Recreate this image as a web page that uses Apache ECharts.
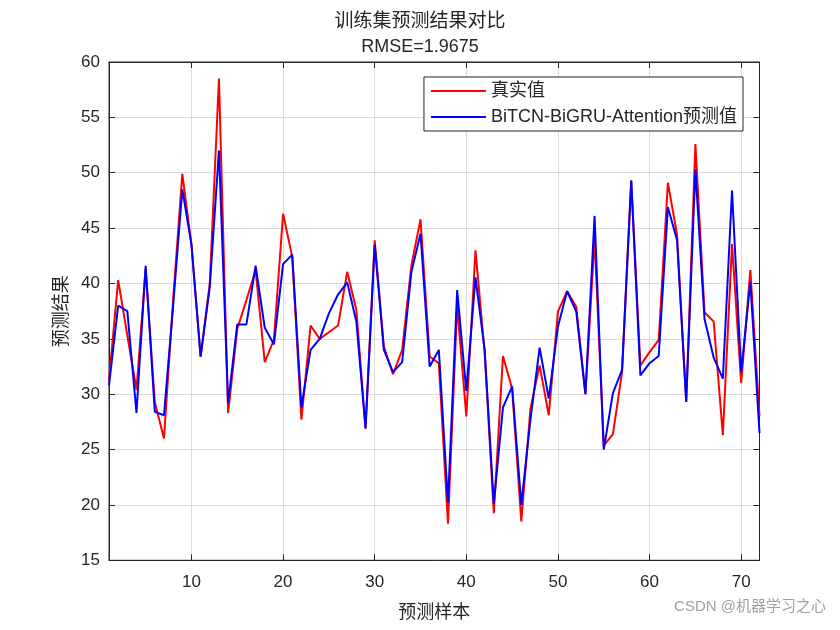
<!DOCTYPE html>
<html><head><meta charset="utf-8">
<script src="https://cdn.jsdelivr.net/npm/echarts@6/dist/echarts.min.js"></script>
<style>html,body{margin:0;padding:0;background:#fff}#c{width:840px;height:630px}</style>
</head><body><div id="c"></div>
<script>
const titleText = "训练集预测结果对比";
const subTitle = "RMSE=1.9675";
const xTicks = [10,20,30,40,50,60,70];
const seriesNames = ["真实值", "BiTCN-BiGRU-Attention预测值"];
const actual = [31.3,40.3,35.3,30.4,41.3,29.3,26.0,38.5,49.9,43.5,33.4,40.0,58.5,28.3,35.9,38.5,41.2,32.9,34.9,46.3,
42.4,27.7,36.2,35.0,35.6,36.2,41.05,37.6,26.9,43.9,34.3,31.8,34.0,41.6,45.8,33.4,32.8,18.3,38.0,28.0,
43.0,33.8,19.25,33.45,30.5,18.5,28.7,32.6,28.1,37.45,39.3,37.9,30.0,44.0,25.35,26.4,32.0,49.3,32.6,33.8,
34.9,49.1,44.4,29.3,52.6,37.4,36.55,26.3,43.55,31.0,41.2,28.0];
const predicted = [30.8,38.0,37.5,28.3,41.6,28.4,28.1,38.0,48.5,43.5,33.4,39.7,52.0,29.2,36.3,36.3,41.6,36.0,34.5,41.75,
42.6,28.8,34.0,35.0,37.3,39.0,40.1,36.55,26.9,43.5,34.0,32.0,32.9,41.0,44.5,32.5,34.0,20.2,39.4,30.3,
40.55,34.0,20.1,28.8,30.7,20.0,27.7,34.2,29.6,36.1,39.3,37.45,30.0,46.1,25.0,30.1,32.2,49.3,31.7,32.8,
33.45,46.9,43.9,29.3,50.3,36.8,33.3,31.4,48.4,32.0,40.15,26.5];

const toPairs = arr => arr.map((v,i)=>[i+1,v]);
const numFont = "Liberation Sans";
const cjk = "Noto Sans CJK SC";
const chart = echarts.init(document.getElementById('c'), null, {renderer:'canvas'});
const gl = {show:true, lineStyle:{color:'#dcdcdc', width:1}};
chart.setOption({
  backgroundColor:'#fff',
  animation:false,
  title:[
    {text:titleText, left:'center', top:5, textStyle:{fontFamily:cjk, fontSize:19, fontWeight:'normal', color:'#262626'}},
    {text:subTitle, left:'center', top:33, textStyle:{fontFamily:numFont, fontSize:18, fontWeight:'normal', color:'#262626'}}
  ],
  grid:{left:109, right:80.5, top:62, bottom:69.7, show:true, borderColor:'#262626', borderWidth:1, backgroundColor:'#fff'},
  legend:{
    orient:'vertical', right:97, top:77, itemWidth:55, itemHeight:2, itemGap:8,
    backgroundColor:'#fff', borderColor:'#262626', borderWidth:1, padding:[5,6,5,7],
    textStyle:{fontFamily:[numFont, cjk].join(','), fontSize:18, color:'#262626'},
    icon:'rect',
    data:seriesNames
  },
  xAxis:[{
    type:'value', min:1, max:72, position:'bottom',
    name:'预测样本', nameLocation:'middle', nameGap:42,
    nameTextStyle:{fontFamily:cjk, fontSize:18, color:'#262626'},
    axisLine:{show:true, lineStyle:{color:'#262626'}},
    axisTick:{show:true, inside:true, length:6, customValues:xTicks, lineStyle:{color:'#262626'}},
    axisLabel:{customValues:xTicks, fontFamily:numFont, fontSize:17, color:'#262626', margin:14},
    splitLine:gl
  },{
    type:'value', min:1, max:72, position:'top',
    axisLine:{show:true, lineStyle:{color:'#262626'}},
    axisTick:{show:true, inside:true, length:6, customValues:xTicks, lineStyle:{color:'#262626'}},
    axisLabel:{show:false}, splitLine:{show:false}
  }],
  yAxis:[{
    type:'value', min:15, max:60, interval:5, position:'left',
    name:'预测结果', nameLocation:'middle', nameGap:40,
    nameTextStyle:{fontFamily:cjk, fontSize:18, color:'#262626'},
    axisLine:{show:true, lineStyle:{color:'#262626'}},
    axisTick:{show:true, inside:true, length:6, lineStyle:{color:'#262626'}},
    axisLabel:{fontFamily:numFont, fontSize:17, color:'#262626', margin:9},
    splitLine:gl
  },{
    type:'value', min:15, max:60, interval:5, position:'right',
    axisLine:{show:true, lineStyle:{color:'#262626'}},
    axisTick:{show:true, inside:true, length:6, lineStyle:{color:'#262626'}},
    axisLabel:{show:false}, splitLine:{show:false}
  }],
  series:[
    {name:seriesNames[0], type:'line', data:toPairs(actual), showSymbol:false, symbol:'none',
     lineStyle:{color:'#ff0000', width:2}, itemStyle:{color:'#ff0000'}, z:2},
    {name:seriesNames[1], type:'line', data:toPairs(predicted), showSymbol:false, symbol:'none',
     lineStyle:{color:'#0000ff', width:2}, itemStyle:{color:'#0000ff'}, z:3}
  ],
  graphic:[{type:'text', right:14, top:599, style:{text:'CSDN @机器学习之心', fontFamily:[numFont,cjk].join(','), fontSize:15, fill:'#a0a0a0'}}]
});
</script></body></html>
